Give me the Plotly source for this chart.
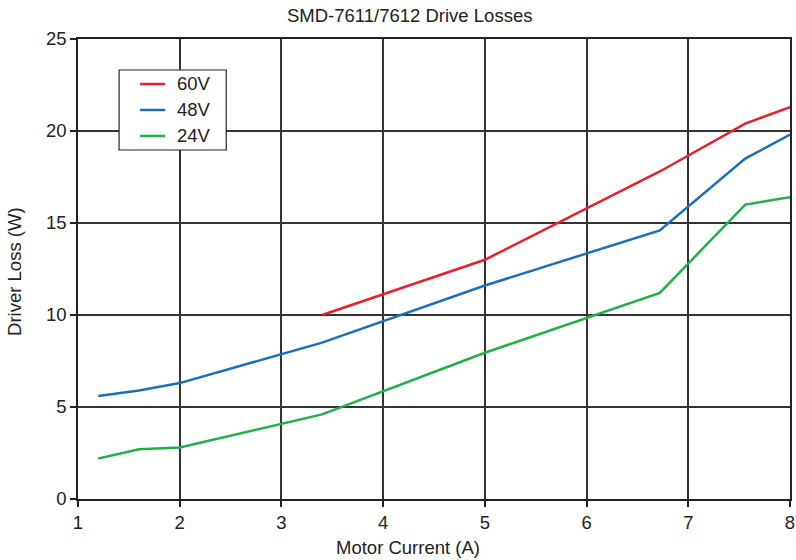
import plotly.graph_objects as go

current = [1.2, 1.6, 2.0, 3.0, 3.4, 5.0, 6.72, 7.56, 8.0]
loss_60v_x = [3.4, 5.0, 6.72, 7.56, 8.0]
loss_60v = [10.0, 13.0, 17.8, 20.4, 21.3]
loss_48v = [5.6, 5.9, 6.3, 7.85, 8.5, 11.6, 14.6, 18.5, 19.8]
loss_24v = [2.2, 2.7, 2.8, 4.1, 4.6, 7.95, 11.2, 16.0, 16.4]

series = [("60V", loss_60v_x, loss_60v, "#e8202a"),
          ("48V", current, loss_48v, "#1a6fba"),
          ("24V", current, loss_24v, "#22b04b")]

FONT = "Liberation Sans, Arial, sans-serif"
INK = "#222"
FS = 18.5

fig = go.Figure()
for name, xs, ys, color in series:
    fig.add_trace(go.Scatter(x=xs, y=ys, name=name, mode="lines",
                             line=dict(color=color, width=2.5), showlegend=False))

axis_style = dict(showline=True, linecolor=INK, linewidth=1.5, mirror=True,
                  showgrid=True, gridcolor="#333", gridwidth=1.5, zeroline=False,
                  ticks="outside", ticklen=6, tickcolor=INK, tickwidth=1.5,
                  tickfont=dict(size=FS, color=INK), automargin=False)
fig.update_xaxes(range=[1, 8], dtick=1, **axis_style)
fig.update_yaxes(range=[0, 25], dtick=5, **axis_style)

# titles placed as annotations (paper coords) to match the original's off-centre text
title_kw = dict(xref="paper", yref="paper", showarrow=False, xanchor="center", yanchor="middle",
                font=dict(size=FS, color=INK))
fig.add_annotation(text="SMD-7611/7612 Drive Losses", x=0.4655, y=1.052, **title_kw)
fig.add_annotation(text="Motor Current (A)", x=0.464, y=-0.1065, **title_kw)
fig.add_annotation(text="Driver Loss (W)", x=-0.0886, y=0.4935, textangle=-90, **title_kw)

# boxed legend, drawn by hand so its size matches the original
fig.add_shape(type="rect", xref="paper", yref="paper", x0=0.0577, x1=0.2082, y0=0.7587, y1=0.9326,
              line=dict(color=INK, width=1.2), fillcolor="white", layer="above")
for i, (name, xs, ys, color) in enumerate(series):
    yy = 0.9022 - i * 0.0565
    fig.add_shape(type="line", xref="paper", yref="paper", x0=0.0872, x1=0.1224, y0=yy, y1=yy,
                  line=dict(color=color, width=2.5), layer="above")
    fig.add_annotation(text=name, xref="paper", yref="paper", x=0.1364, y=yy, xanchor="left",
                       yanchor="middle", showarrow=False, font=dict(size=FS, color=INK))

fig.update_layout(
    width=796, height=560,
    margin=dict(l=78, r=6, t=39, b=61),
    plot_bgcolor="white", paper_bgcolor="white",
    font=dict(family=FONT, color=INK),
    showlegend=False,
)

fig.write_html("out.html", config={"displayModeBar": False, "responsive": False},
               post_script="document.body.style.margin='0';document.body.style.overflow='hidden';")
